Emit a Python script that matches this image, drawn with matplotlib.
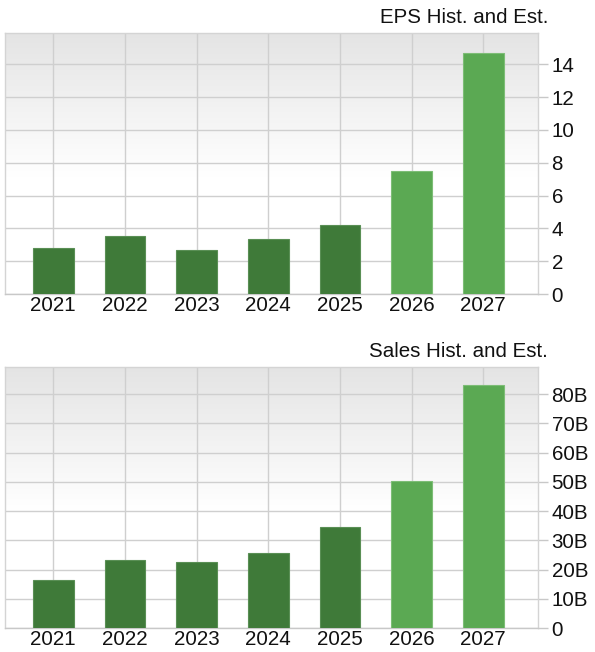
import numpy as np
import matplotlib
matplotlib.use("Agg")
import matplotlib.pyplot as plt
from matplotlib.ticker import FuncFormatter

plt.rcParams['font.family'] = ['Liberation Sans', 'DejaVu Sans']

years = ['2021', '2022', '2023', '2024', '2025', '2026', '2027']
eps_values = [2.83, 3.54, 2.69, 3.35, 4.18, 7.49, 14.7]
sales_values = [16.3, 23.4, 22.5, 25.7, 34.5, 50.3, 83.0]  # billions
is_estimate = [False, False, False, False, False, True, True]
eps_ticks = [0, 2, 4, 6, 8, 10, 12, 14]
sales_ticks = [0, 10, 20, 30, 40, 50, 60, 70, 80]
titles = ['EPS Hist. and Est.', 'Sales Hist. and Est.']

W, H = 595, 652
fig = plt.figure(figsize=(W / 100, H / 100), dpi=100)

DARK = '#3f7a39'
LIGHT = '#5ba953'
DARK_EDGE = '#5a8f55'
LIGHT_EDGE = '#7dbd76'
GRID = '#cfcfcf'
FS = 14.8


def px_rect(left, top, right, bottom):
    return [left / W, 1 - bottom / H, (right - left) / W, (bottom - top) / H]


def draw(rect, values, ticks, ymax, fmt, title, title_base):
    ax = fig.add_axes(rect)
    x = np.arange(len(years))
    # gradient background: gray at top fading to white
    grad = np.linspace(0, 1, 256).reshape(-1, 1)
    cmap = matplotlib.colors.LinearSegmentedColormap.from_list(
        'bg', [(0.0, '#e4e4e4'), (0.55, '#ffffff'), (1.0, '#ffffff')])
    ax.imshow(grad, aspect='auto', cmap=cmap, origin='upper',
              extent=(-0.674, 6.76, 0, ymax),
              zorder=0, interpolation='bilinear')
    colors = [LIGHT if e else DARK for e in is_estimate]
    edges = [LIGHT_EDGE if e else DARK_EDGE for e in is_estimate]
    ax.bar(x, values, width=0.568, color=colors, edgecolor=edges,
           linewidth=0.8, zorder=3)
    ax.set_xlim(-0.674, 6.76)
    ax.set_ylim(0, ymax)
    ax.set_xticks(x)
    ax.set_xticklabels(years)
    ax.set_yticks(ticks)
    ax.yaxis.set_major_formatter(FuncFormatter(fmt))
    ax.yaxis.tick_right()
    ax.tick_params(axis='y', length=7, width=1, color='#c8c8c8', pad=3,
                   labelsize=FS, labelcolor='#111111')
    ax.tick_params(axis='x', length=0, pad=1.5, labelsize=FS,
                   labelcolor='#111111')
    ax.grid(True, color=GRID, linewidth=1, zorder=1)
    ax.set_axisbelow(True)
    for s in ax.spines.values():
        s.set_color('#d4d4d4')
        s.set_linewidth(1)
    ax.spines['bottom'].set_color('#c8c8c8')
    fig.text(548 / W, 1 - title_base / H, title, ha='right', va='baseline',
             fontsize=FS, color='#111111')
    return ax


draw(px_rect(5, 32.7, 537.7, 294), eps_values, eps_ticks, 15.92,
     lambda v, p: f'{v:g}', titles[0], 23.3)
draw(px_rect(5, 366.7, 537.7, 628), sales_values, sales_ticks, 89.4,
     lambda v, p: '0' if v == 0 else f'{v:g}B', titles[1], 357)

fig.savefig('out.png', dpi=100)
